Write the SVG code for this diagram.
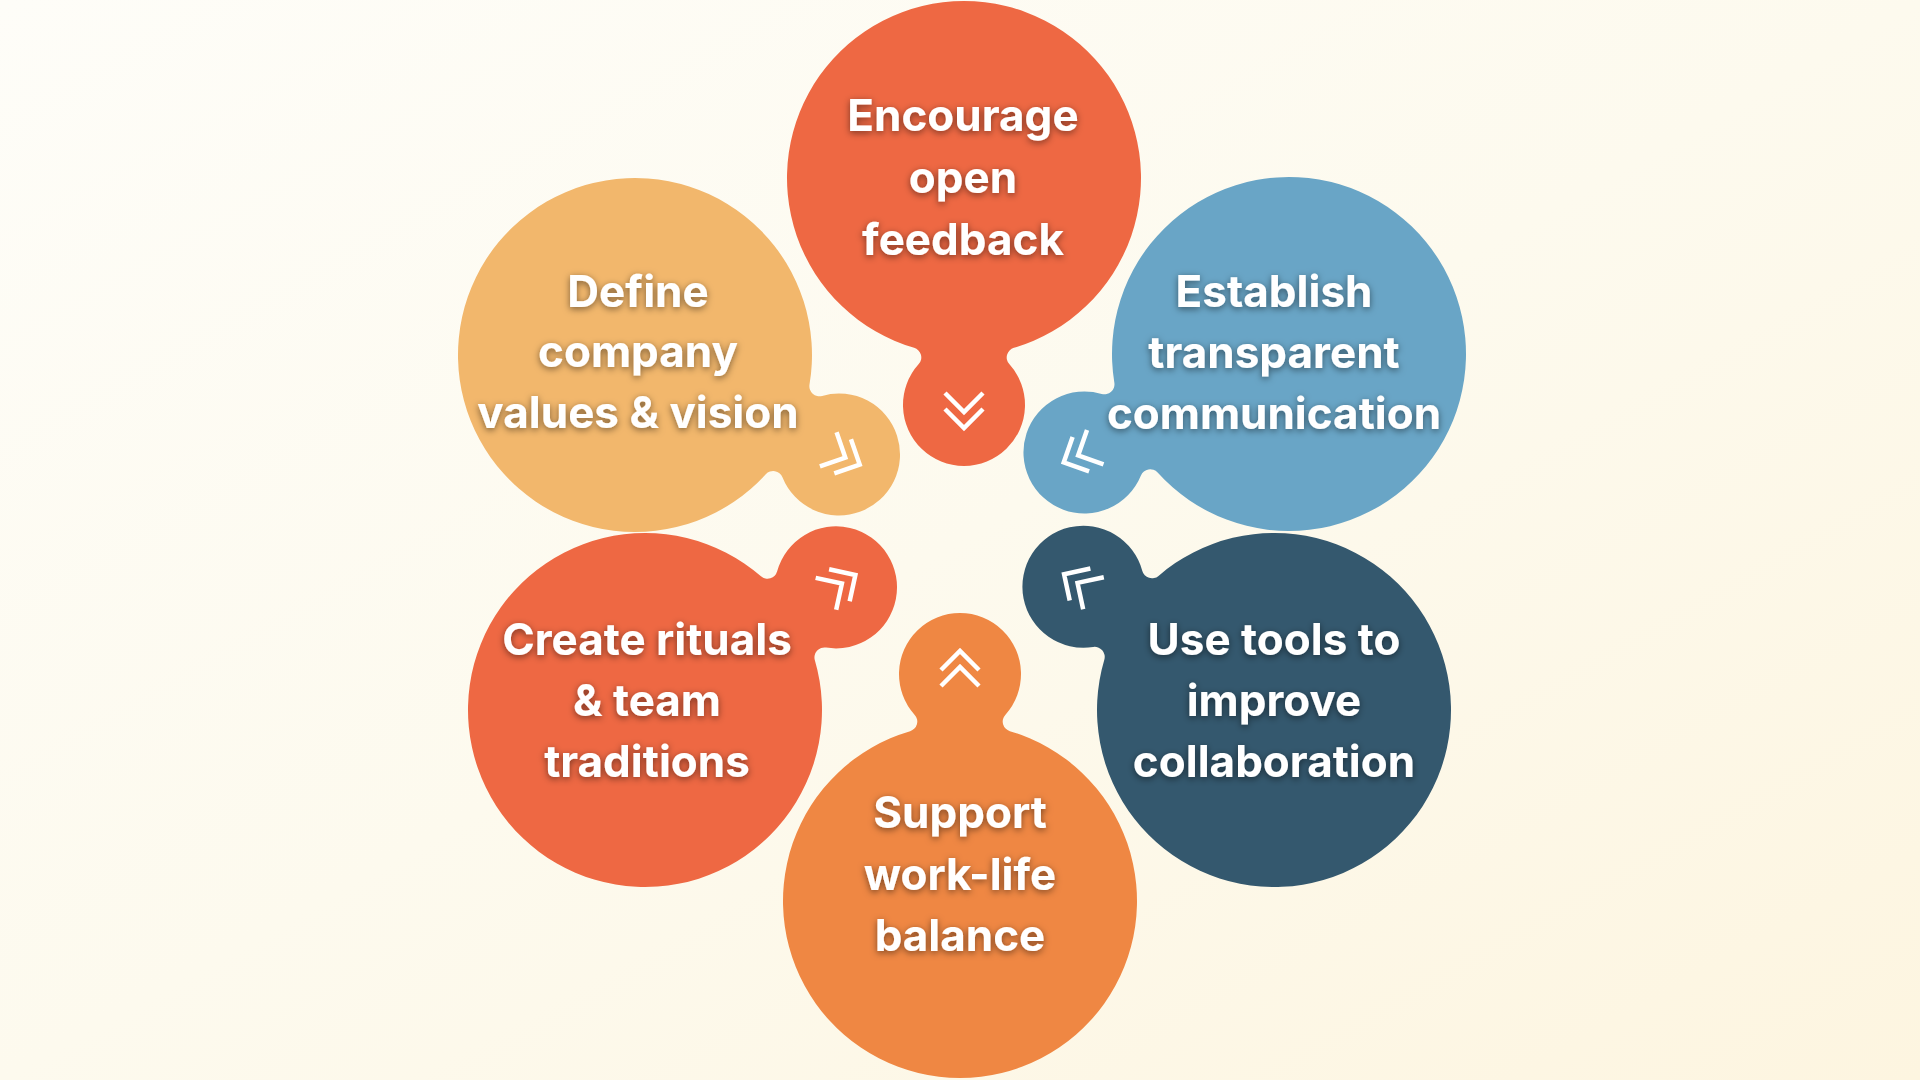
<svg xmlns="http://www.w3.org/2000/svg" xmlns:xlink="http://www.w3.org/1999/xlink" width="1920" height="1080" viewBox="0 0 1920 1080">
  <defs>
    <linearGradient id="bg" x1="0" y1="0" x2="1" y2="1">
      <stop offset="0" stop-color="#FEFDF8"/>
      <stop offset="0.5" stop-color="#FDFAEE"/>
      <stop offset="1" stop-color="#FDF5E0"/>
    </linearGradient>
    <filter id="shadow" x="-20%" y="-30%" width="140%" height="160%">
      <feDropShadow dx="0" dy="2" stdDeviation="3.5" flood-color="#000" flood-opacity="0.5"/>
    </filter>
    <!-- blob: big circle at origin (r=177), small circle at (0,227) (r=61), fillets r=10 -->
    <path id="blob" d="M -49.88 169.82 A 177 177 0 1 1 49.88 169.82 A 10 10 0 0 0 45.28 186.12 A 61 61 0 1 1 -45.28 186.12 A 10 10 0 0 0 -49.88 169.82 Z"/>
    <path id="chev" d="M -19 215 L 0 234 L 19 215 M -19 231 L 0 250 L 19 231"/>
  </defs>
  <style>
    .lbl { font-family: Inter, "Noto Sans", "Liberation Sans", sans-serif; font-weight: 700; font-size: 44px; fill: #FFFFFF; text-anchor: middle; filter: url(#shadow); }
    .chev { fill: none; stroke: #FFFFFF; stroke-width: 4.5; stroke-linecap: butt; stroke-linejoin: miter; }
  </style>
  <rect x="0" y="0" width="1920" height="1080" fill="url(#bg)"/>

  <g id="connectors"></g>

  <g id="node-feedback">
    <g transform="translate(964 178) rotate(0)">
      <use xlink:href="#blob" href="#blob" fill="#EE6843"/>
      <use xlink:href="#chev" href="#chev" class="chev"/>
    </g>
    <text class="lbl"><tspan x="963" y="131">Encourage</tspan><tspan x="963" y="193">open</tspan><tspan x="963" y="255">feedback</tspan></text>
  </g>

  <g id="node-communication">
    <g transform="translate(1289 354) rotate(64.3)">
      <use xlink:href="#blob" href="#blob" fill="#69A5C6"/>
      <use xlink:href="#chev" href="#chev" class="chev"/>
    </g>
    <text class="lbl"><tspan x="1274" y="307">Establish</tspan><tspan x="1274" y="368">transparent</tspan><tspan x="1274" y="429">communication</tspan></text>
  </g>

  <g id="node-collaboration">
    <g transform="translate(1274 710) rotate(122.9)">
      <use xlink:href="#blob" href="#blob" fill="#34586E"/>
      <use xlink:href="#chev" href="#chev" class="chev"/>
    </g>
    <text class="lbl"><tspan x="1274" y="655">Use tools to</tspan><tspan x="1274" y="716">improve</tspan><tspan x="1274" y="777">collaboration</tspan></text>
  </g>

  <g id="node-balance">
    <g transform="translate(960 901) rotate(180)">
      <use xlink:href="#blob" href="#blob" fill="#EF8743"/>
      <use xlink:href="#chev" href="#chev" class="chev"/>
    </g>
    <text class="lbl"><tspan x="960" y="828">Support</tspan><tspan x="960" y="890">work-life</tspan><tspan x="960" y="951">balance</tspan></text>
  </g>

  <g id="node-rituals">
    <g transform="translate(645 710) rotate(-122.7)">
      <use xlink:href="#blob" href="#blob" fill="#EE6843"/>
      <use xlink:href="#chev" href="#chev" class="chev"/>
    </g>
    <text class="lbl"><tspan x="647" y="655">Create rituals</tspan><tspan x="647" y="716">&amp; team</tspan><tspan x="647" y="777">traditions</tspan></text>
  </g>

  <g id="node-values">
    <g transform="translate(635 355) rotate(-64)">
      <use xlink:href="#blob" href="#blob" fill="#F2B76C"/>
      <use xlink:href="#chev" href="#chev" class="chev"/>
    </g>
    <text class="lbl"><tspan x="638" y="307">Define</tspan><tspan x="638" y="367">company</tspan><tspan x="638" y="428">values &amp; vision</tspan></text>
  </g>
</svg>
